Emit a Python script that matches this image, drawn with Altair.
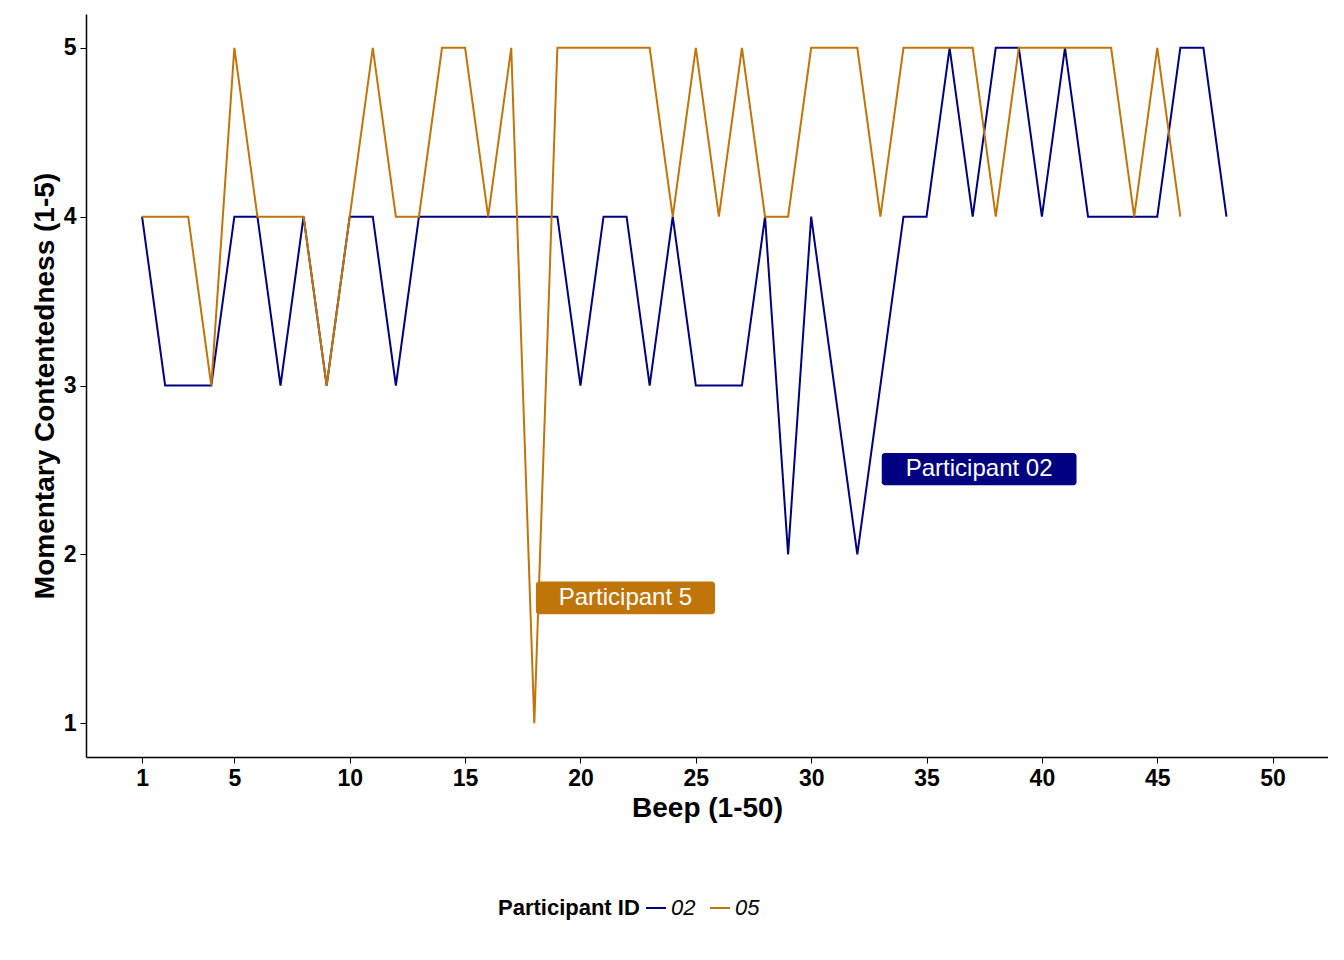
import altair as alt
import pandas as pd

beeps_02 = list(range(1, 49))
vals_02 = [4, 3, 3, 3, 4, 4, 3, 4, 3, 4, 4, 3, 4, 4, 4, 4, 4, 4, 4, 3,
           4, 4, 3, 4, 3, 3, 3, 4, 2, 4, 3, 2, 3, 4, 4, 5, 4, 5, 5, 4,
           5, 4, 4, 4, 4, 5, 5, 4]
beeps_05 = list(range(1, 47))
vals_05 = [4, 4, 4, 3, 5, 4, 4, 4, 3, 4, 5, 4, 4, 5, 5, 4, 5, 1, 5, 5,
           5, 5, 5, 4, 5, 4, 5, 4, 4, 5, 5, 5, 4, 5, 5, 5, 5, 4, 5, 5,
           5, 5, 5, 4, 5, 4]

ids = ["02", "05"]
colors = ["#000080", "#C0750A"]

# label boxes: text, x0, x1, y0, y1
label_text = ["Participant 02", "Participant 5"]
label_id = ["02", "05"]
label_x0 = [33.06, 18.07]
label_x1 = [41.5, 25.83]
label_y0 = [2.41, 1.645]
label_y1 = [2.6, 1.84]

df = pd.concat([
    pd.DataFrame({"beep": beeps_02, "value": vals_02, "id": "02"}),
    pd.DataFrame({"beep": beeps_05, "value": vals_05, "id": "05"}),
])
labels = pd.DataFrame({"text": label_text, "id": label_id, "x0": label_x0,
                       "x1": label_x1, "y0": label_y0, "y1": label_y1})
labels["xm"] = (labels.x0 + labels.x1) / 2
labels["ym"] = (labels.y0 + labels.y1) / 2

xs = alt.Scale(domain=[-1.43, 52.4], nice=False, zero=False)
ys = alt.Scale(domain=[0.8, 5.2], nice=False, zero=False)
cs = alt.Scale(domain=ids, range=colors)

lines = alt.Chart(df).mark_line(strokeWidth=2).encode(
    x=alt.X("beep:Q", scale=xs, title="Beep (1-50)",
            axis=alt.Axis(values=[1, 5, 10, 15, 20, 25, 30, 35, 40, 45, 50], format="d")),
    y=alt.Y("value:Q", scale=ys, title="Momentary Contentedness (1-5)",
            axis=alt.Axis(values=[1, 2, 3, 4, 5], format="d")),
    color=alt.Color("id:N", scale=cs, title="Participant ID",
                    legend=alt.Legend(orient="none", direction="horizontal",
                                      legendX=412, legendY=883, symbolType="stroke",
                                      symbolStrokeWidth=2, symbolSize=400,
                                      labelFontStyle="italic", labelFontSize=22,
                                      titleFontSize=22, titleOrient="left",
                                      titleFontWeight="bold", titleColor="black",
                                      labelColor="black", titleFont="Liberation Sans",
                                      labelFont="Liberation Sans")),
)

boxes = alt.Chart(labels).mark_rect(cornerRadius=3).encode(
    x=alt.X("x0:Q", scale=xs), x2="x1", y=alt.Y("y0:Q", scale=ys), y2="y1",
    color=alt.Color("id:N", scale=cs, legend=None),
)
texts = alt.Chart(labels).mark_text(color="white", fontSize=24, font="Liberation Sans").encode(
    x=alt.X("xm:Q", scale=xs), y=alt.Y("ym:Q", scale=ys), text="text:N",
)

chart = (lines + boxes + texts).properties(
    width=1242, height=743, autosize=alt.AutoSizeParams(type="none"),
    padding={"left": 78, "top": 6, "right": 0, "bottom": 190},
).configure_axis(
    grid=False, domainColor="black", tickColor="black", domainWidth=1.5,
    labelFontSize=23, labelFontWeight="bold", labelColor="black",
    titleFontSize=28, titleFontWeight="bold", titleColor="black",
    labelFont="Liberation Sans", titleFont="Liberation Sans", tickSize=6,
    labelPadding=4,
).configure_view(stroke=None)

chart.save("out.html", embed_options={"renderer": "svg", "actions": False})
